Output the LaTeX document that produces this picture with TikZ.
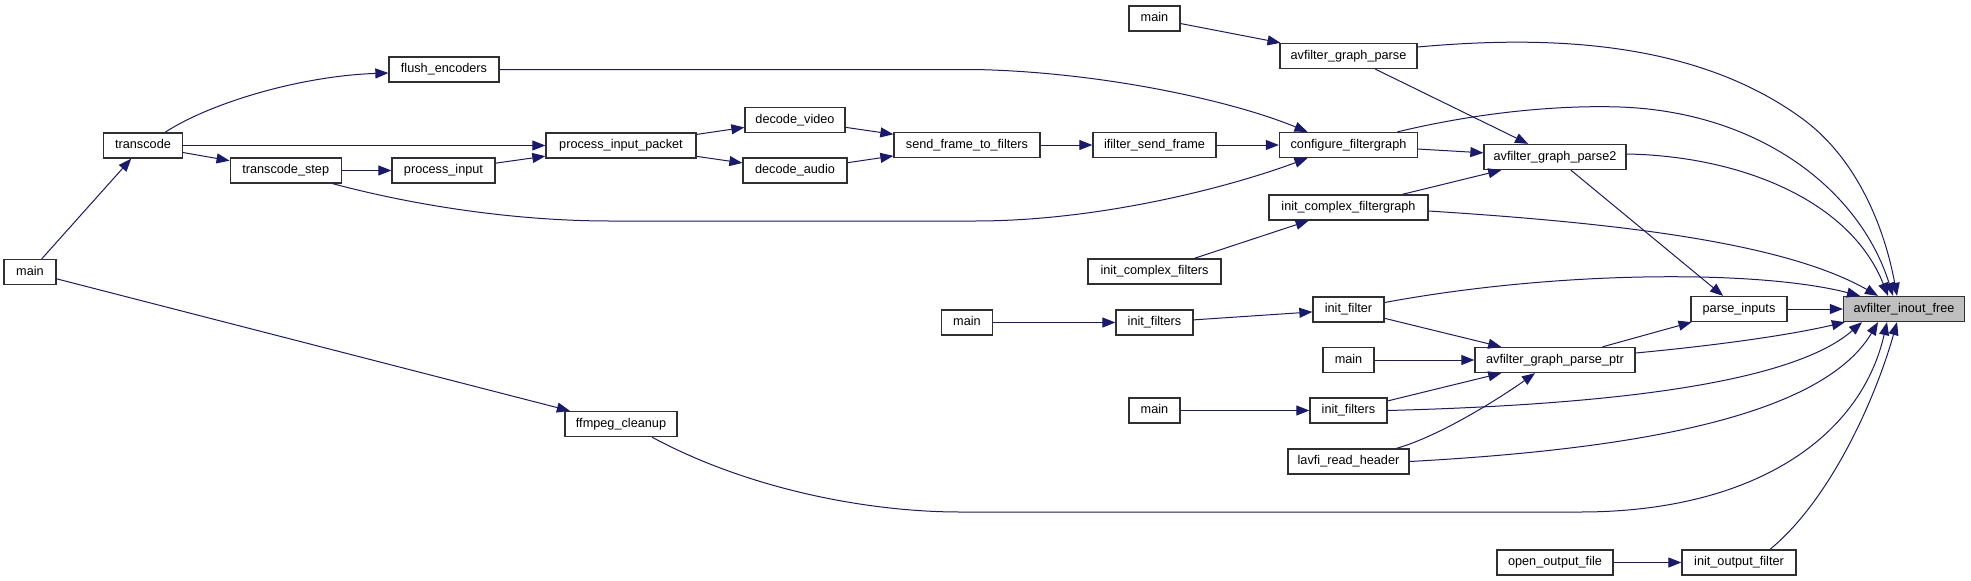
\documentclass[tikz,border=0pt]{standalone}
\usepackage{fontspec}
\setmainfont{Liberation Sans}
\usetikzlibrary{arrows.meta}
\definecolor{edgecol}{HTML}{191970}
\definecolor{hilite}{HTML}{BFBFBF}
\definecolor{boxline}{HTML}{303030}
\begin{document}
\begin{tikzpicture}[x=1pt,y=-1pt,
  fn/.style={draw=boxline, fill=white, line width=1.3pt, inner sep=0pt, minimum height=25pt,
    font=\fontsize{12.7}{15}\selectfont, text height=9pt, text depth=2.6pt},
  call/.style={draw=edgecol, line width=1pt, -{Triangle[length=13pt,width=10pt]}}]
\useasboundingbox[fill=white] (0,0) rectangle (1971,581);

% nodes
\node[fn, minimum width=52pt] (mainL) at (30,272) {main};
\node[fn, minimum width=79pt] (transcode) at (143,145.5) {transcode};
\node[fn, minimum width=110pt] (flush) at (444,69.5) {flush\_encoders};
\node[fn, minimum width=111pt] (tstep) at (285.7,170.5) {transcode\_step};
\node[fn, minimum width=103pt] (pinput) at (443.5,170.5) {process\_input};
\node[fn, minimum width=150pt] (ppacket) at (621,145.5) {process\_input\_packet};
\node[fn, minimum width=100pt] (dvideo) at (795,120) {decode\_video};
\node[fn, minimum width=104pt] (daudio) at (795,170.5) {decode\_audio};
\node[fn, minimum width=146pt] (sendf) at (967,145) {send\_frame\_to\_filters};
\node[fn, minimum width=123pt] (ifsend) at (1154.5,145) {ifilter\_send\_frame};
\node[fn, minimum width=138pt] (config) at (1348.5,145) {configure\_filtergraph};
\node[fn, minimum width=51pt] (mainT) at (1154.5,18.5) {main};
\node[fn, minimum width=137pt] (gparse) at (1348.5,56) {avfilter\_graph\_parse};
\node[fn, minimum width=142pt] (gparse2) at (1555,157) {avfilter\_graph\_parse2};
\node[fn, minimum width=159pt] (icfg) at (1348.5,207.5) {init\_complex\_filtergraph};
\node[fn, minimum width=133pt] (icf) at (1154.5,271.5) {init\_complex\_filters};
\node[fn, minimum width=96pt] (pinputs) at (1739,309) {parse\_inputs};
\node[fn, minimum width=121pt, fill=hilite] (free) at (1904,309) {avfilter\_inout\_free};
\node[fn, minimum width=51pt] (mainM) at (967,322.5) {main};
\node[fn, minimum width=77pt] (ifilters1) at (1154.5,322.5) {init\_filters};
\node[fn, minimum width=71pt] (ifilter) at (1348.5,309.5) {init\_filter};
\node[fn, minimum width=51pt] (mainR) at (1348.5,360) {main};
\node[fn, minimum width=160pt] (gptr) at (1555,360) {avfilter\_graph\_parse\_ptr};
\node[fn, minimum width=51pt] (mainB) at (1154.5,410.5) {main};
\node[fn, minimum width=77pt] (ifilters2) at (1348.5,410.5) {init\_filters};
\node[fn, minimum width=121pt] (lavfi) at (1348.5,461.5) {lavfi\_read\_header};
\node[fn, minimum width=112pt] (cleanup) at (621,424) {ffmpeg\_cleanup};
\node[fn, minimum width=116pt] (oof) at (1555,562.5) {open\_output\_file};
\node[fn, minimum width=114pt] (iof) at (1739,562.5) {init\_output\_filter};

% edges
\draw[call] (mainL) -- (transcode);
\draw[call] (mainL) -- (cleanup);
\draw[call] ([xshift=22pt]transcode.north) .. controls (210,103) and (300,76) .. ([yshift=-3.5pt]flush.west);
\draw[call] (transcode) -- (ppacket);
\draw[call] (transcode) -- (tstep);
\draw[call] (tstep) -- (pinput);
\draw[call] (pinput) -- (ppacket);
\draw[call] ([xshift=47pt]tstep.south) .. controls (420,207) and (520,221) .. (610,221) -- (975,221) .. controls (1100,221) and (1230,187) .. ([xshift=-41pt]config.south);
\draw[call] (flush) -- (975,69.5) .. controls (1100,72) and (1230,100) .. ([xshift=-41pt]config.north);
\draw[call] (ppacket) -- (dvideo);
\draw[call] (ppacket) -- (daudio);
\draw[call] (dvideo) -- (sendf);
\draw[call] (daudio) -- (sendf);
\draw[call] (sendf) -- (ifsend);
\draw[call] (ifsend) -- (config);
\draw[call] (mainT) -- (gparse);
\draw[call] (gparse) -- (gparse2);
\draw[call] (config) -- (gparse2);
\draw[call] (icfg) -- (gparse2);
\draw[call] (icf) -- (icfg);
\draw[call] (gparse2) -- (pinputs);
\draw[call] (pinputs) -- (free);
\draw[call] (mainM) -- (ifilters1);
\draw[call] (ifilters1) -- (ifilter);
\draw[call] (ifilter) -- (gptr);
\draw[call] (mainR) -- (gptr);
\draw[call] (ifilters2) -- (gptr);
\draw[call] (gptr) -- (pinputs);
\draw[call] (mainB) -- (ifilters2);
\draw[call] ([xshift=48pt]lavfi.north) .. controls (1440,436) and (1500,398) .. ([xshift=-20pt]gptr.south);
\draw[call] (oof) -- (iof);

% curves into avfilter_inout_free
\draw[call] ([yshift=9pt]gparse.east) .. controls (1540,36) and (1690,38) .. (1800,117) .. controls (1858,158) and (1885,230) .. ([xshift=-7pt]free.north);
\draw[call] ([xshift=49pt]config.north) .. controls (1480,112) and (1560,105) .. (1620,107) .. controls (1760,112) and (1860,190) .. ([xshift=-11pt]free.north);
\draw[call] ([yshift=3pt]gparse2.east) .. controls (1740,156) and (1850,200) .. ([xshift=-16pt]free.north);
\draw[call] ([yshift=-3.5pt]icfg.east) .. controls (1600,222) and (1780,240) .. ([xshift=-26pt]free.north);
\draw[call] ([yshift=7pt]ifilter.east) .. controls (1560,270) and (1760,270) .. ([xshift=-44pt]free.north);
\draw[call] ([yshift=7pt]gptr.east) .. controls (1720,345) and (1790,335) .. ([xshift=2pt]free.south west);
\draw[call] (ifilters2.east) .. controls (1600,405) and (1790,385) .. ([xshift=-42pt]free.south);
\draw[call] (lavfi.east) .. controls (1620,450) and (1820,420) .. ([xshift=-26pt]free.south);
\draw[call] ([xshift=31pt]cleanup.south) .. controls (750,490) and (870,512) .. (960,512) -- (1580,512) .. controls (1750,512) and (1860,440) .. ([xshift=-17pt]free.south);
\draw[call] ([xshift=31pt]iof.north) .. controls (1830,500) and (1875,400) .. ([xshift=-7pt]free.south);
\end{tikzpicture}
\end{document}
